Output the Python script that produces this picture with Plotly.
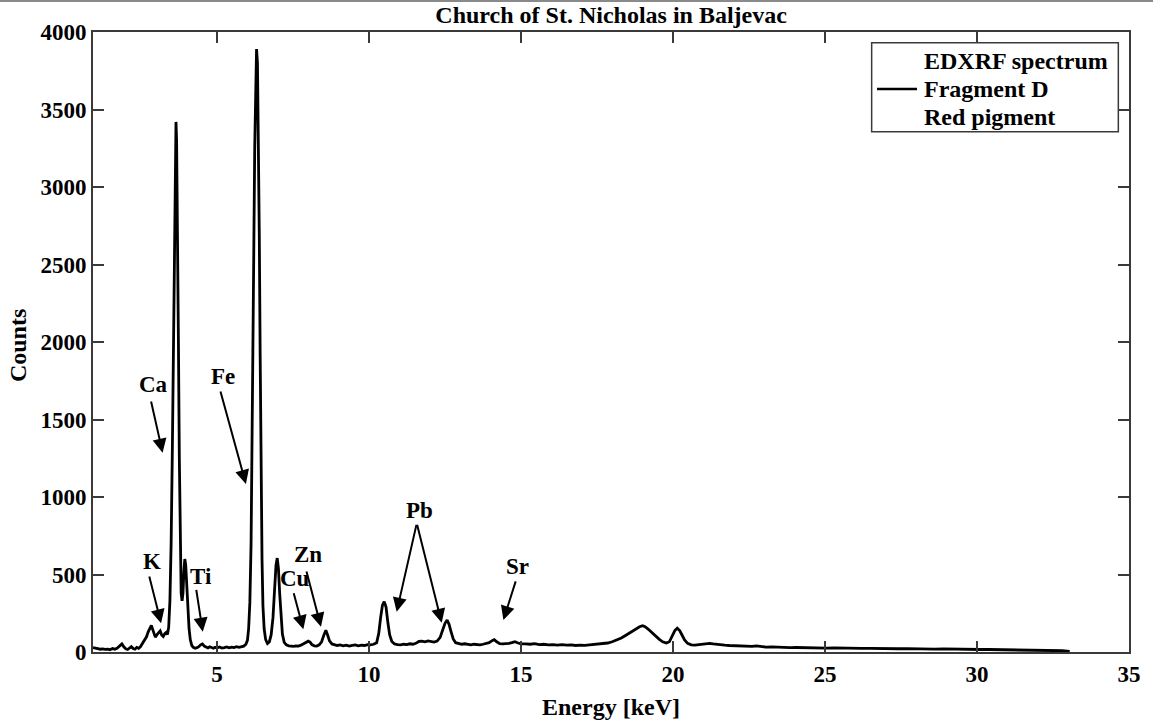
import plotly.graph_objects as go

# EDXRF spectrum, Fragment D (red pigment)
energy_kev = [
    0.92, 1.00, 1.08, 1.16, 1.24, 1.32, 1.40, 1.48, 1.56, 1.64, 1.72, 1.80, 1.87, 1.94, 2.00, 2.06,
    2.12, 2.18, 2.24, 2.30, 2.36, 2.42, 2.48,
    2.55, 2.62, 2.68, 2.74, 2.80, 2.84, 2.88, 2.93, 2.97, 3.02, 3.08, 3.13, 3.18, 3.23, 3.28, 3.33, 3.37,
    3.41, 3.45, 3.49, 3.53, 3.57, 3.60, 3.63, 3.65, 3.67, 3.70, 3.73, 3.76, 3.79, 3.82, 3.85, 3.88,
    3.91, 3.94, 3.97, 4.00, 4.04, 4.08, 4.12, 4.17, 4.22, 4.28, 4.34, 4.40, 4.46, 4.52, 4.58, 4.64,
    4.70, 4.76, 4.82, 4.88, 4.94, 5.00, 5.08, 5.16, 5.24, 5.32, 5.40, 5.48, 5.56, 5.64, 5.72, 5.80,
    5.88, 5.95, 6.00,
    6.04, 6.08, 6.12, 6.15, 6.18, 6.21, 6.24, 6.27, 6.30, 6.33, 6.36, 6.39, 6.42, 6.45, 6.48, 6.51,
    6.55, 6.60, 6.66, 6.72, 6.78, 6.84, 6.89, 6.94, 6.98, 7.02, 7.06, 7.10, 7.15, 7.21, 7.28, 7.36,
    7.44, 7.52, 7.60, 7.68, 7.76, 7.84, 7.92, 8.00, 8.06, 8.12, 8.20, 8.28, 8.36, 8.44, 8.52, 8.58,
    8.64, 8.70, 8.78, 8.86, 8.95, 9.05, 9.15, 9.25, 9.35, 9.45, 9.55, 9.65, 9.75, 9.85, 9.95, 10.05,
    10.15, 10.25, 10.32, 10.38, 10.44, 10.50, 10.56, 10.62, 10.68, 10.75, 10.84, 10.94, 11.04, 11.14,
    11.24, 11.34, 11.44, 11.54, 11.64, 11.74, 11.84, 11.94, 12.04, 12.14, 12.24, 12.34, 12.42, 12.50,
    12.57, 12.63, 12.70, 12.77, 12.85, 12.95, 13.05, 13.15, 13.25, 13.35, 13.45, 13.55, 13.65, 13.75,
    13.85, 13.95, 14.05, 14.12, 14.20, 14.30, 14.40, 14.50, 14.60, 14.70, 14.80, 14.90, 15.00, 15.15,
    15.30, 15.45, 15.60, 15.75, 15.90, 16.05, 16.20, 16.35, 16.50, 16.65, 16.80, 16.95, 17.10, 17.25,
    17.40, 17.55, 17.70, 17.85, 18.00, 18.15, 18.30, 18.45, 18.60, 18.75, 18.90, 19.00, 19.08, 19.18,
    19.30, 19.42, 19.54, 19.66, 19.78, 19.88, 19.98, 20.06, 20.14, 20.22, 20.30, 20.38, 20.48, 20.60,
    20.72, 20.84, 20.96, 21.08, 21.20, 21.32, 21.44, 21.56, 21.70, 21.85, 22.00, 22.15, 22.30, 22.45,
    22.60, 22.75, 22.90, 23.05, 23.25, 23.45, 23.65, 23.85, 24.05, 24.30, 24.55, 24.80, 25.05, 25.30,
    25.60, 25.90, 26.20, 26.50, 26.80, 27.10, 27.40, 27.70, 28.00, 28.30, 28.60, 28.90, 29.20, 29.50,
    29.80, 30.10, 30.40, 30.70, 31.00, 31.30, 31.60, 31.90, 32.20, 32.50, 32.80, 33.05,
]
counts = [
    28, 24, 22, 18, 20, 17, 19, 15, 22, 18, 25, 38, 52, 32, 20, 16,
    24, 34, 22, 18, 30, 24, 34,
    58, 82, 98, 132, 162, 172, 148, 112, 96, 110, 128, 136, 110, 100, 118, 126, 112,
    160, 330, 700, 1300, 2100, 2800, 3300, 3420, 3300, 2800, 2000, 1250, 650, 380, 330, 380,
    520, 600, 560, 420, 260, 150, 80, 42, 30, 24, 28, 34, 46, 52, 38, 30,
    26, 34, 28, 24, 30, 26, 32, 25, 28, 33, 27, 31, 28, 34, 30, 36,
    38, 50, 75,
    150, 320, 700, 1200, 1900, 2600, 3250, 3700, 3890, 3800, 3400, 2700, 1900, 1150, 600, 300,
    150, 80, 55, 65, 110, 220, 400, 560, 606, 540, 380, 230, 115, 62, 46, 40,
    38, 36, 40, 38, 44, 52, 62, 70, 64, 48, 40, 38, 46, 66, 112, 140,
    108, 72, 52, 45, 42, 46, 40, 44, 38, 42, 46, 40, 44, 42, 48, 46,
    50, 60, 120, 220, 300, 325, 290, 190, 110, 68, 52, 48, 46, 50,
    48, 53, 50, 56, 68, 70, 66, 72, 68, 64, 70, 94, 140, 185,
    206, 180, 130, 84, 60, 53, 50, 53, 48, 46, 50, 48, 46, 50,
    53, 60, 73, 80, 66, 54, 52, 53, 56, 60, 66, 58, 53, 52,
    50, 54, 48, 50, 46, 48, 45, 48, 44, 46, 42, 45, 43, 46,
    48, 50, 53, 58, 66, 76, 90, 108, 128, 148, 163, 170, 163, 148,
    126, 103, 83, 66, 58, 66, 103, 138, 153, 138, 108, 78, 56, 46,
    44, 46, 50, 54, 56, 52, 48, 46, 44, 42, 40, 38, 36, 38,
    36, 40, 34, 32, 33, 30, 31, 28, 29, 27, 28, 26, 25, 26,
    24, 25, 23, 24, 22, 23, 21, 22, 20, 21, 19, 20, 18, 19,
    17, 16, 16, 15, 15, 14, 14, 13, 12, 11, 8, 4,
]

# element labels and the arrows pointing to their lines
element_labels = ["K", "Ca", "Ti", "Fe", "Cu", "Zn", "Pb", "Sr"]
label_x = [2.85, 2.90, 4.46, 5.21, 7.57, 8.00, 11.65, 14.88]
label_y = [583, 1723, 486, 1776, 475, 626, 916, 550]

arrow_tail_x = [2.76, 2.82, 4.31, 5.10, 7.51, 7.93, 11.57, 11.57, 14.84]
arrow_tail_y = [497, 1626, 411, 1690, 389, 529, 830, 830, 465]
arrow_head_x = [3.16, 3.21, 4.53, 5.95, 7.84, 8.42, 10.91, 12.39, 14.42]
arrow_head_y = [185, 1286, 131, 1084, 146, 163, 260, 189, 206]

legend_entries = ["EDXRF spectrum", "Fragment D", "Red pigment"]
legend_has_line = [False, True, False]

x_ticks = [5, 10, 15, 20, 25, 30, 35]
y_ticks = [0, 500, 1000, 1500, 2000, 2500, 3000, 3500, 4000]

FONT = "Liberation Serif"
AXIS_COLOR = "#3a3a3a"


def bold(size):
    return dict(family=FONT, size=size, color="black", weight="bold")


fig = go.Figure()

fig.add_trace(go.Scatter(x=energy_kev, y=counts, mode="lines", name=legend_entries[1],
                         line=dict(color="black", width=2.8), showlegend=False))

for lab, lx, ly in zip(element_labels, label_x, label_y):
    fig.add_annotation(x=lx, y=ly, xref="x", yref="y", text=lab, showarrow=False,
                       xanchor="center", yanchor="middle", font=bold(23))

for tx, ty, hx, hy in zip(arrow_tail_x, arrow_tail_y, arrow_head_x, arrow_head_y):
    fig.add_annotation(x=hx, y=hy, ax=tx, ay=ty, xref="x", yref="y", axref="x", ayref="y",
                       text="", showarrow=True, arrowhead=2, arrowsize=1.4,
                       arrowwidth=2, arrowcolor="black")

# axis titles
fig.add_annotation(x=-0.0724, y=0.495, xref="paper", yref="paper", text="Counts",
                   textangle=-90, showarrow=False, xanchor="center", yanchor="middle",
                   font=bold(24))
fig.add_annotation(x=0.5, y=-0.0887, xref="paper", yref="paper", text="Energy [keV]",
                   showarrow=False, xanchor="center", yanchor="middle", font=bold(24))

# legend box drawn in paper coordinates
shapes = [
    dict(type="line", xref="paper", yref="paper", x0=-0.2, x1=1.2,
         y0=1 + 31 / 620, y1=1 + 31 / 620, line=dict(color="#8a8a8a", width=2)),
    dict(type="rect", xref="paper", yref="paper", x0=0.7516, x1=0.9897, y0=0.8392, y1=0.9827,
         fillcolor="white", line=dict(color=AXIS_COLOR, width=1.5), layer="above"),
]
row_y = [0.9537, 0.908, 0.8629]
for entry, has_line, ry in zip(legend_entries, legend_has_line, row_y):
    if has_line:
        shapes.append(dict(type="line", xref="paper", yref="paper", x0=0.7568, x1=0.7954,
                           y0=ry, y1=ry, line=dict(color="black", width=2.5), layer="above"))
    fig.add_annotation(x=0.8002, y=ry, xref="paper", yref="paper", text=entry,
                       showarrow=False, xanchor="left", yanchor="middle", font=bold(24))

axis_common = dict(
    showgrid=False, zeroline=False, showline=True, linecolor=AXIS_COLOR, linewidth=2,
    mirror="ticks", ticks="inside", ticklen=11, tickwidth=2, tickcolor=AXIS_COLOR,
    tickfont=bold(23),
)

fig.update_xaxes(range=[0.92, 35], tickvals=x_ticks, **axis_common)
fig.update_yaxes(range=[0, 4000], tickvals=y_ticks, **axis_common)

fig.update_layout(
    width=1153, height=724,
    margin=dict(l=93, r=24, t=32, b=72),
    paper_bgcolor="white", plot_bgcolor="white",
    title=dict(text="Church of St. Nicholas in Baljevac", x=0.53, xanchor="center",
               y=1 - 15 / 724, yanchor="middle", font=bold(24)),
    showlegend=False,
    shapes=shapes,
)

fig.write_html("out.html")
